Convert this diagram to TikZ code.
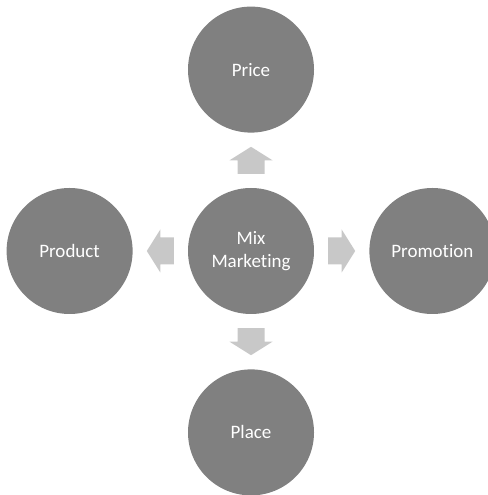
\documentclass[tikz,border=0pt]{standalone}
\usepackage{fontspec}
\setmainfont[Ligatures=NoCommon]{Carlito}
\usetikzlibrary{positioning,calc}
\definecolor{circlegray}{RGB}{128,128,128}
\definecolor{arrowgray}{RGB}{200,200,200}
\tikzset{
  mixcircle/.style={circle, fill=circlegray, text=white, minimum size=126pt,
    inner sep=0pt, align=center, font=\fontsize{19}{23}\selectfont},
}
\def\drawBlockArrow#1#2{
\fill[arrowgray, shift={(#1)}, rotate=#2]
  (-13.5,-13.5) -- (0,-13.5) -- (0,-21.5) -- (13.5,0) -- (0,21.5) -- (0,13.5) -- (-13.5,13.5) -- cycle;
}

\begin{document}
\begin{tikzpicture}[x=1pt, y=1pt]
  \useasboundingbox (0,0) rectangle (487,495);
  \node[mixcircle] (mix) at (251,244) {Mix\\Marketing};
  \node[mixcircle, above=55pt of mix] (price) {Price};
  \node[mixcircle, below=55pt of mix] (place) {Place};
  \node[mixcircle, left=55pt of mix] (product) {Product};
  \node[mixcircle, right=55pt of mix] (promotion) {Promotion};
  \coordinate (up) at ($(mix)!0.5!(price)$);
  \coordinate (down) at ($(mix)!0.5!(place)$);
  \coordinate (left) at ($(mix)!0.5!(product)$);
  \coordinate (right) at ($(mix)!0.5!(promotion)$);
  \drawBlockArrow{up}{90}
  \drawBlockArrow{down}{-90}
  \drawBlockArrow{left}{180}
  \drawBlockArrow{right}{0}
\end{tikzpicture}
\end{document}
